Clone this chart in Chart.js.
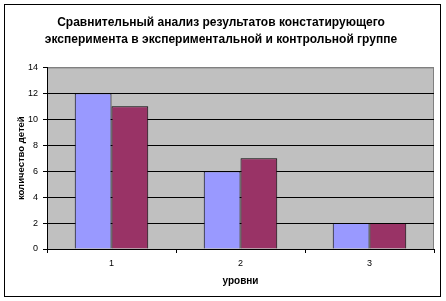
<!DOCTYPE html>
<html>
<head>
<meta charset="utf-8">
<script src="https://cdn.jsdelivr.net/npm/chart.js@4/dist/chart.umd.min.js"></script>
<style>
  body { margin: 0; background: #fff; }
  #wrap { position: relative; width: 446px; height: 301px; }
  #frame { position: absolute; left: 4px; top: 4px; width: 435px; height: 291px; border: 1px solid #000; pointer-events: none; }
</style>
</head>
<body>
<div id="wrap">
  <canvas id="chart" width="446" height="301"></canvas>
  <div id="frame"></div>
</div>
<script>
const levels = ['1', '2', '3'];
const experimentalGroup = [12, 6, 2];
const controlGroup = [11, 7, 2];
const yTicks = [0, 2, 4, 6, 8, 10, 12, 14];

const plotBackground = {
    id: 'plotBackground',
    beforeDraw(chart) {
        const { ctx, chartArea: a } = chart;
        ctx.save();
        ctx.fillStyle = '#C0C0C0';
        ctx.fillRect(a.left, a.top, a.right - a.left, a.bottom - a.top);
        ctx.strokeStyle = '#808080';
        ctx.lineWidth = 1;
        ctx.beginPath();
        ctx.moveTo(a.left, a.top + 0.5);
        ctx.lineTo(a.right - 0.5, a.top + 0.5);
        ctx.lineTo(a.right - 0.5, a.bottom);
        ctx.stroke();
        ctx.restore();
    }
};

new Chart(document.getElementById('chart'), {
    type: 'bar',
    data: {
        labels: levels,
        datasets: [{
            label: 'экспериментальная группа',
            data: experimentalGroup,
            backgroundColor: '#9999FF',
            borderColor: '#000',
            borderWidth: 1
        }, {
            label: 'контрольная группа',
            data: controlGroup,
            backgroundColor: '#993366',
            borderColor: '#000',
            borderWidth: 1
        }]
    },
    options: {
        responsive: false,
        animation: false,
        layout: { padding: { left: 8, right: 12, top: 13, bottom: 14 } },
        datasets: { bar: { categoryPercentage: 0.57, barPercentage: 1 } },
        plugins: {
            legend: { display: false },
            tooltip: { enabled: false },
            title: {
                display: true,
                text: ['Сравнительный анализ результатов констатирующего',
                       'эксперимента в экспериментальной и контрольной группе'],
                color: '#000',
                font: { family: 'Arial, "Liberation Sans"', size: 12, weight: 'bold', lineHeight: 1.35 },
                padding: { top: 2, bottom: 20 }
            }
        },
        scales: {
            x: {
                grid: { offset: true, drawOnChartArea: false, color: '#000', tickLength: 4 },
                border: { color: '#000' },
                ticks: { color: '#000', padding: 5, font: { family: 'Arial, "Liberation Sans"', size: 9 } },
                title: {
                    display: true, text: 'уровни', color: '#000',
                    font: { family: 'Arial, "Liberation Sans"', size: 10, weight: 'bold' },
                    padding: { top: 4, bottom: 0 }
                },
                afterFit(scale) { scale.height = 38; }
            },
            y: {
                min: 0, max: 14,
                afterBuildTicks(scale) { scale.ticks = yTicks.map(v => ({ value: v })); },
                grid: {
                    color: c => (c.tick && c.tick.value === 14) ? '#808080' : '#000',
                    tickColor: '#000',
                    tickLength: 4
                },
                border: { color: '#000' },
                ticks: { color: '#000', padding: 5, font: { family: 'Arial, "Liberation Sans"', size: 9 } },
                title: {
                    display: true, text: 'количество детей', color: '#000',
                    font: { family: 'Arial, "Liberation Sans"', size: 9.5, weight: 'bold' },
                    padding: { top: 8, bottom: 0 }
                },
                afterFit(scale) { scale.width = 39; }
            }
        }
    },
    plugins: [plotBackground]
});
</script>
</body>
</html>
